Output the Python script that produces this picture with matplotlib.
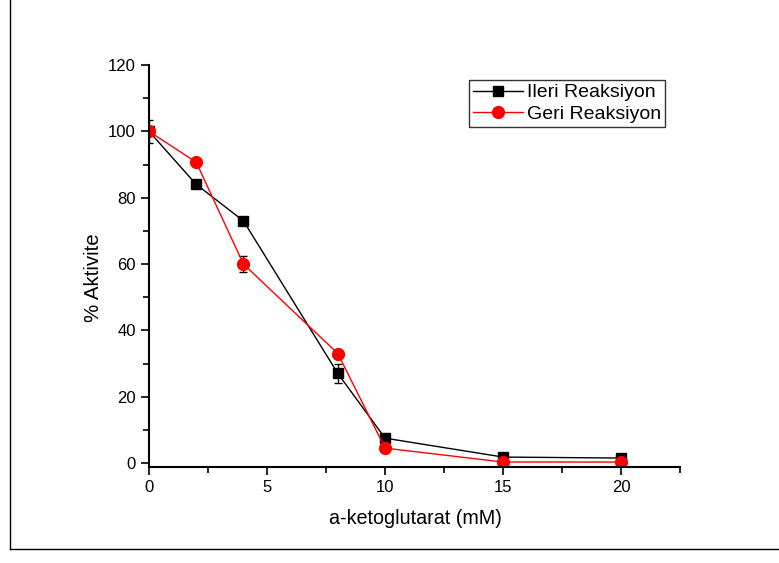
import matplotlib.pyplot as plt
from matplotlib.lines import Line2D

plt.rcParams['font.family'] = ['Liberation Sans', 'DejaVu Sans']

conc = [0, 2, 4, 8, 10, 15, 20]
ileri = [100, 84, 73, 27, 7.5, 1.8, 1.5]
ileri_err = [3.5, 0, 0, 2.9, 0, 0, 0]
geri = [100, 90.7, 60, 33, 4.5, 0.3, 0.3]
geri_err = [0, 0, 2.4, 0, 1.2, 0, 0]

fig = plt.figure(figsize=(7.79, 5.63), dpi=100)
ax = fig.add_axes([0.1913, 0.1705, 0.6817, 0.714])

ax.errorbar(conc, ileri, yerr=ileri_err, color='black', marker='s', markersize=7,
            linewidth=1, capsize=3, elinewidth=1, label='Ileri Reaksiyon')
ax.errorbar(conc, geri, yerr=geri_err, color='red', marker='o', markersize=8.5,
            linewidth=1, capsize=3, elinewidth=1, ecolor='black', label='Geri Reaksiyon')

ax.set_xlim(0, 22.5)
ax.set_ylim(-1.2, 120)
ax.set_xticks([0, 5, 10, 15, 20])
ax.set_xticks([2.5, 7.5, 12.5, 17.5, 22.5], minor=True)
ax.set_yticks([0, 20, 40, 60, 80, 100, 120])
ax.set_yticks([10, 30, 50, 70, 90, 110], minor=True)
ax.tick_params(which='major', direction='out', length=6, width=1.2, labelsize=12)
ax.tick_params(which='minor', direction='out', length=4, width=1.2)
ax.spines['top'].set_visible(False)
ax.spines['right'].set_visible(False)
ax.spines['left'].set_linewidth(1.5)
ax.spines['bottom'].set_linewidth(1.5)
ax.spines['bottom'].set_bounds(0, 22.5)

ax.set_xlabel('a-ketoglutarat (mM)', fontsize=14.2)
ax.set_ylabel('% Aktivite', fontsize=14.8)
ax.xaxis.set_label_coords(0.501, -0.127)
ax.yaxis.set_label_coords(-0.105, 0.47)
ax.xaxis.label.set_va('center')
ax.yaxis.label.set_va('center')

handles = [Line2D([], [], color='black', marker='s', markersize=7, linewidth=1),
           Line2D([], [], color='red', marker='o', markersize=8.5, linewidth=1)]
leg = ax.legend(handles, ['Ileri Reaksiyon', 'Geri Reaksiyon'], loc='upper right',
                bbox_to_anchor=(0.972, 0.963), fontsize=14, frameon=True, fancybox=False,
                borderpad=0.2, handlelength=2.6, handletextpad=0.2, labelspacing=0.2,
                borderaxespad=0)
leg.get_frame().set_edgecolor('black')
leg.get_frame().set_linewidth(1)

# outer frame lines
fig.add_artist(Line2D([10 / 779, 10 / 779], [1, 1 - 549 / 563], color='black', linewidth=1))
fig.add_artist(Line2D([10 / 779, 1], [1 - 549 / 563, 1 - 549 / 563], color='black', linewidth=1))

fig.savefig('out.png', dpi=100)
